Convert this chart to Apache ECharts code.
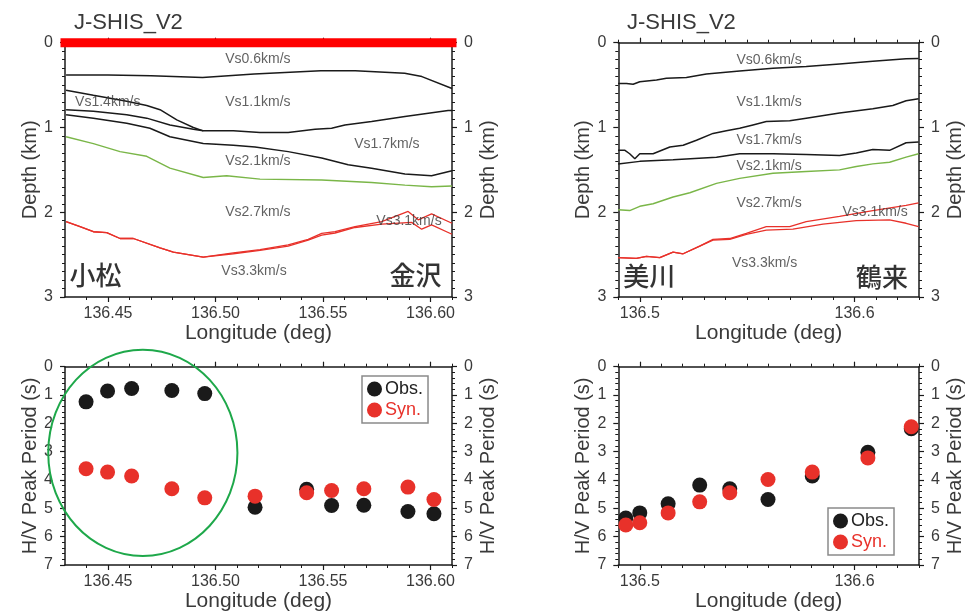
<!DOCTYPE html>
<html>
<head>
<meta charset="utf-8">
<script src="https://cdn.jsdelivr.net/npm/echarts@6/dist/echarts.min.js"></script>
<style>html,body{margin:0;padding:0;background:#fff;}#c{width:974px;height:614px;}</style>
</head>
<body>
<div id="c"></div>
<script>
// ---------- axes ----------
const leftLonRange = [136.43, 136.61];
const rightLonRange = [136.49, 136.63];
const depthRange = [0, 3];
const periodRange = [0, 7];
const leftLonTicks = [136.45, 136.50, 136.55, 136.60];
const leftLonMinor = [136.44, 136.46, 136.47, 136.48, 136.49, 136.51, 136.52, 136.53, 136.54, 136.56, 136.57, 136.58, 136.59, 136.61];
const rightLonTicks = [136.5, 136.6];
const rightLonMinor = [136.49, 136.51, 136.52, 136.53, 136.54, 136.55, 136.56, 136.57, 136.58, 136.59, 136.61, 136.62, 136.63];

// ---------- top-left: Komatsu - Kanazawa velocity structure (lon, depth km) ----------
const kkProfile = [[136.43, 0], [136.61, 0]];
const kkVs06 = [[136.4305,0.38],[136.450,0.38],[136.470,0.39],[136.494,0.41],[136.518,0.37],[136.549,0.33],[136.565,0.33],[136.588,0.36],[136.596,0.40],[136.610,0.54]];
const kkVs14Top = [[136.4305,0.56],[136.4432,0.62],[136.4587,0.69],[136.468,0.74],[136.4742,0.79],[136.482,0.91],[136.4897,1.00],[136.4943,1.04],[136.5083,1.04],[136.5207,1.06],[136.5338,1.06],[136.5463,1.02],[136.554,1.01],[136.5602,0.97],[136.5726,0.93],[136.5881,0.87],[136.6082,0.80],[136.610,0.80]];
const kkVs14Bottom = [[136.4305,0.79],[136.4432,0.81],[136.4587,0.85],[136.468,0.89],[136.4788,0.97],[136.4897,1.02],[136.4943,1.04]];
const kkVs17 = [[136.4305,0.85],[136.4432,0.89],[136.4587,0.95],[136.4695,1.01],[136.4788,1.11],[136.4943,1.19],[136.5083,1.21],[136.5184,1.23],[136.5338,1.285],[136.5494,1.36],[136.5617,1.44],[136.5726,1.48],[136.5881,1.55],[136.6005,1.57],[136.610,1.51]];
const kkVs21 = [[136.4305,1.11],[136.4432,1.19],[136.4556,1.285],[136.468,1.34],[136.4788,1.48],[136.4943,1.59],[136.5052,1.57],[136.5207,1.61],[136.5494,1.62],[136.5726,1.65],[136.5881,1.68],[136.6005,1.70],[136.610,1.69]];
const kkVs27 = [[136.4305,2.11],[136.437,2.17],[136.4432,2.23],[136.4494,2.24],[136.4556,2.31],[136.4618,2.31],[136.4742,2.42],[136.4804,2.47],[136.4943,2.53],[136.5083,2.48],[136.5207,2.44],[136.5338,2.385],[136.5431,2.32],[136.5494,2.25],[136.5556,2.23],[136.5649,2.17],[136.5773,2.11],[136.5896,1.99],[136.5943,2.09],[136.6005,2.02],[136.610,2.13]];
const kkVs31 = [[136.4305,2.11],[136.437,2.17],[136.4432,2.23],[136.4494,2.24],[136.4556,2.31],[136.4618,2.31],[136.4742,2.42],[136.4804,2.47],[136.4943,2.53],[136.5083,2.49],[136.5207,2.45],[136.5338,2.40],[136.5431,2.33],[136.5494,2.27],[136.5556,2.245],[136.5649,2.18],[136.5773,2.14],[136.5912,2.12],[136.5959,2.20],[136.6005,2.15],[136.610,2.26]];

// ---------- top-right: Mikawa - Tsurugi velocity structure ----------
const mtVs06 = [[136.4899,0.48],[136.4938,0.48],[136.4969,0.49],[136.5,0.46],[136.5078,0.44],[136.5124,0.42],[136.5217,0.41],[136.531,0.37],[136.5465,0.335],[136.562,0.30],[136.5775,0.28],[136.593,0.25],[136.6085,0.22],[136.624,0.19],[136.6298,0.185]];
const mtVs11 = [[136.4899,1.27],[136.4931,1.27],[136.4953,1.31],[136.4977,1.37],[136.5,1.31],[136.5062,1.31],[136.514,1.23],[136.5202,1.21],[136.5264,1.15],[136.5341,1.07],[136.5403,1.04],[136.5465,1.01],[136.5527,0.97],[136.5589,0.93],[136.5698,0.92],[136.5775,0.89],[136.593,0.83],[136.6085,0.78],[136.6178,0.74],[136.624,0.685],[136.6298,0.66]];
const mtVs17 = [[136.4899,1.43],[136.5,1.40],[136.5155,1.38],[136.5357,1.35],[136.5465,1.31],[136.562,1.31],[136.5775,1.32],[136.593,1.33],[136.6008,1.30],[136.6085,1.26],[136.6163,1.27],[136.624,1.18],[136.6298,1.17]];
const mtVs21 = [[136.4899,1.97],[136.4953,1.98],[136.5,1.93],[136.5062,1.90],[136.5155,1.82],[136.5233,1.77],[136.5357,1.66],[136.5465,1.60],[136.562,1.54],[136.5775,1.52],[136.593,1.50],[136.6008,1.46],[136.6085,1.43],[136.6163,1.41],[136.624,1.35],[136.6298,1.31]];
const mtVs27 = [[136.4899,2.535],[136.4984,2.545],[136.5031,2.52],[136.5093,2.535],[136.5155,2.47],[136.5202,2.49],[136.5279,2.40],[136.5341,2.32],[136.5419,2.31],[136.5496,2.25],[136.5589,2.17],[136.5698,2.17],[136.5775,2.11],[136.593,2.05],[136.6085,1.98],[136.624,1.92],[136.6298,1.89]];
const mtVs31 = [[136.4899,2.535],[136.4984,2.545],[136.5031,2.52],[136.5093,2.535],[136.5155,2.47],[136.5202,2.49],[136.5279,2.40],[136.5341,2.33],[136.5419,2.32],[136.5496,2.26],[136.5589,2.21],[136.5713,2.20],[136.5853,2.14],[136.6008,2.10],[136.6163,2.09],[136.624,2.13],[136.6298,2.17]];

// ---------- layer labels ----------
const kkLayerNames = ['Vs0.6km/s','Vs1.4km/s','Vs1.1km/s','Vs1.7km/s','Vs2.1km/s','Vs2.7km/s','Vs3.1km/s','Vs3.3km/s'];
const kkLayerLon   = [136.5197, 136.4499, 136.5197, 136.5797, 136.5197, 136.5197, 136.5900, 136.5179];
const kkLayerDepth = [0.195, 0.70, 0.70, 1.20, 1.40, 2.00, 2.10, 2.70];
const mtLayerNames = ['Vs0.6km/s','Vs1.1km/s','Vs1.7km/s','Vs2.1km/s','Vs2.7km/s','Vs3.1km/s','Vs3.3km/s'];
const mtLayerLon   = [136.5602, 136.5602, 136.5602, 136.5602, 136.5602, 136.6096, 136.5581];
const mtLayerDepth = [0.205, 0.705, 1.15, 1.453, 1.898, 2.004, 2.606];
const kkPlaces = ['小松', '金沢'];
const kkPlaceLon = [136.4442, 136.593];
const kkPlaceDepth = [2.74, 2.74];
const mtPlaces = ['美川', '鶴来'];
const mtPlaceLon = [136.5044, 136.6128];
const mtPlaceDepth = [2.75, 2.76];

// ---------- H/V peak periods ----------
const kkStationLon = [136.4398, 136.4498, 136.461, 136.4797, 136.495, 136.5184, 136.5424, 136.554, 136.569, 136.5895, 136.6016];
const kkObs = [1.24, 0.86, 0.77, 0.84, 0.95, 4.96, 4.33, 4.90, 4.89, 5.11, 5.19];
const kkSyn = [3.60, 3.72, 3.86, 4.31, 4.63, 4.57, 4.45, 4.37, 4.31, 4.25, 4.69];
const mtStationLon = [136.4935, 136.5, 136.5132, 136.5279, 136.5419, 136.5597, 136.5803, 136.6062, 136.6264];
const mtObs = [5.34, 5.16, 4.84, 4.18, 4.31, 4.69, 3.86, 3.02, 2.19];
const mtSyn = [5.59, 5.51, 5.16, 4.77, 4.45, 3.98, 3.72, 3.22, 2.12];

// highlighted group (ellipse) in lon / period units
const highlight = { lon: 136.4662, period: 3.04, halfLon: 0.0440, halfPeriod: 3.64 };

// ---------- styling ----------
const FONT = "'Liberation Sans', Arial, Helvetica, sans-serif";
const CJK = "'Noto Sans CJK JP', 'Noto Sans CJK SC', sans-serif";
const AX = '#1a1a1a';
const TXT = '#3a3a3a';
const RED = '#e8312a';
const BLACK = '#1a1a1a';
const GREEN = '#7ab648';

const grids = [
  { left: 65, top: 42.7, width: 387, height: 254.3 },
  { left: 618.3, top: 42.7, width: 300.7, height: 254.3 },
  { left: 65, top: 366.7, width: 387, height: 198.3 },
  { left: 618.3, top: 366.7, width: 300.7, height: 198.3 }
].map(g => Object.assign({ containLabel: false, outerBoundsMode: 'none' }, g));

const xAxes = [];
const yAxes = [];
function addX(gi, range, majors, minors, digits) {
  const base = { gridIndex: gi, type: 'value', min: range[0], max: range[1], splitLine: { show: false }, axisPointer: { show: false } };
  const lineStyle = { color: AX, width: 1.5 };
  xAxes.push(Object.assign({}, base, {
    position: 'bottom',
    axisLine: { show: true, onZero: false, lineStyle },
    axisTick: { show: true, customValues: majors, length: 5, lineStyle: { color: AX, width: 1.2 } },
    axisLabel: { show: true, customValues: majors, margin: 9, fontSize: 16, color: TXT, fontFamily: FONT, formatter: v => Number(v).toFixed(digits) },
    name: 'Longitude (deg)', nameLocation: 'middle', nameGap: 26,
    nameTextStyle: { fontSize: 21, color: TXT, fontFamily: FONT }
  }));
  xAxes.push(Object.assign({}, base, {
    position: 'bottom',
    axisLine: { show: false, onZero: false },
    axisTick: { show: true, customValues: minors, length: 3, lineStyle: { color: AX, width: 1 } },
    axisLabel: { show: false }
  }));
  xAxes.push(Object.assign({}, base, {
    position: 'top',
    axisLine: { show: true, onZero: false, lineStyle },
    axisTick: { show: true, customValues: majors, length: 5, lineStyle: { color: AX, width: 1.2 } },
    axisLabel: { show: false }
  }));
  xAxes.push(Object.assign({}, base, {
    position: 'top',
    axisLine: { show: false, onZero: false },
    axisTick: { show: true, customValues: minors, length: 3, lineStyle: { color: AX, width: 1 } },
    axisLabel: { show: false }
  }));
}
function addY(gi, range, name, minorSplit, gapL, gapR) {
  ['left', 'right'].forEach(pos => {
    yAxes.push({
      gridIndex: gi, type: 'value', position: pos, inverse: true,
      min: range[0], max: range[1], interval: 1,
      splitLine: { show: false },
      axisLine: { show: true, onZero: false, lineStyle: { color: AX, width: 1.5 } },
      axisTick: { show: true, length: 5, lineStyle: { color: AX, width: 1.2 } },
      minorTick: { show: true, splitNumber: minorSplit, length: 3, lineStyle: { color: AX, width: 1 } },
      axisLabel: { margin: 12, fontSize: 16, color: TXT, fontFamily: FONT },
      name: name, nameLocation: 'middle', nameRotate: 90, nameGap: pos === 'left' ? gapL : gapR,
      nameTextStyle: { fontSize: 20, color: TXT, fontFamily: FONT }
    });
  });
}
addX(0, leftLonRange, leftLonTicks, leftLonMinor, 2);
addX(1, rightLonRange, rightLonTicks, rightLonMinor, 1);
addX(2, leftLonRange, leftLonTicks, leftLonMinor, 2);
addX(3, rightLonRange, rightLonTicks, rightLonMinor, 1);
addY(0, depthRange, 'Depth (km)', 10, 22, 26);
addY(1, depthRange, 'Depth (km)', 10, 22, 26);
addY(2, periodRange, 'H/V Peak Period (s)', 5, 22, 26);
addY(3, periodRange, 'H/V Peak Period (s)', 5, 22, 26);

const series = [];
function lineS(gi, data, color, width, extra) {
  series.push(Object.assign({
    type: 'line', xAxisIndex: gi * 4, yAxisIndex: gi * 2, data: data,
    symbol: 'none', silent: true, animation: false,
    lineStyle: { color: color, width: width }
  }, extra || {}));
}
function labelS(gi, names, lons, depths, size, family, color, weight) {
  series.push({
    type: 'scatter', xAxisIndex: gi * 4, yAxisIndex: gi * 2, silent: true, animation: false,
    symbolSize: 1, itemStyle: { color: 'rgba(0,0,0,0)' }, z: 5,
    data: names.map((n, i) => ({ name: n, value: [lons[i], depths[i]] })),
    label: { show: true, position: 'inside', formatter: '{b}', fontSize: size, fontFamily: family, color: color, fontWeight: weight || 'normal' }
  });
}
// top-left
lineS(0, kkVs06, BLACK, 1.5);
lineS(0, kkVs14Top, BLACK, 1.5);
lineS(0, kkVs14Bottom, BLACK, 1.5);
lineS(0, kkVs17, BLACK, 1.5);
lineS(0, kkVs21, GREEN, 1.4);
lineS(0, kkVs27, RED, 1.3);
lineS(0, kkVs31, RED, 1.3);
labelS(0, kkLayerNames, kkLayerLon, kkLayerDepth, 14, FONT, TXT);
labelS(0, kkPlaces, kkPlaceLon, kkPlaceDepth, 26, CJK, '#000', 500);
lineS(0, kkProfile, '#ff0000', 8, { clip: false, z: 10, lineStyle: { color: '#ff0000', width: 9, cap: 'square' } });
// top-right
lineS(1, mtVs06, BLACK, 1.5);
lineS(1, mtVs11, BLACK, 1.5);
lineS(1, mtVs17, BLACK, 1.5);
lineS(1, mtVs21, GREEN, 1.4);
lineS(1, mtVs27, RED, 1.3);
lineS(1, mtVs31, RED, 1.3);
labelS(1, mtLayerNames, mtLayerLon, mtLayerDepth, 14, FONT, TXT);
labelS(1, mtPlaces, mtPlaceLon, mtPlaceDepth, 26, CJK, '#000', 500);
// scatter panels
function dots(gi, name, lons, vals, color) {
  series.push({
    type: 'scatter', name: name, xAxisIndex: gi * 4, yAxisIndex: gi * 2,
    data: lons.map((x, i) => [x, vals[i]]), symbol: 'circle', symbolSize: 15,
    itemStyle: { color: color, opacity: 1 }, animation: false, silent: true
  });
}
dots(2, 'Obs.', kkStationLon, kkObs, BLACK);
dots(2, 'Syn.', kkStationLon, kkSyn, RED);
dots(3, 'Obs.', mtStationLon, mtObs, BLACK);
dots(3, 'Syn.', mtStationLon, mtSyn, RED);

function legendAt(left, top) {
  return {
    orient: 'vertical', left: left, top: top, padding: [4, 5, 4, 5], itemGap: 3,
    itemWidth: 15, itemHeight: 15, icon: 'circle', selectedMode: false,
    borderColor: '#8a8a8a', borderWidth: 1.5, backgroundColor: '#fff',
    textStyle: { fontSize: 18, fontFamily: FONT, padding: [0, 0, 0, -2] },
    data: [
      { name: 'Obs.', textStyle: { color: '#222' } },
      { name: 'Syn.', textStyle: { color: RED } }
    ]
  };
}

const chart = echarts.init(document.getElementById('c'), null, { renderer: 'canvas' });
chart.setOption({
  animation: false,
  backgroundColor: '#ffffff',
  title: [
    { text: 'J-SHIS_V2', left: 74, top: 12, padding: 0, textStyle: { fontSize: 22, fontWeight: 'normal', color: TXT, fontFamily: FONT } },
    { text: 'J-SHIS_V2', left: 627, top: 12, padding: 0, textStyle: { fontSize: 22, fontWeight: 'normal', color: TXT, fontFamily: FONT } }
  ],
  legend: [legendAt(362, 376), legendAt(828, 508)],
  grid: grids,
  xAxis: xAxes,
  yAxis: yAxes,
  series: series
});

// highlight ellipse through the axis scales of the bottom-left panel
const cx = chart.convertToPixel({ xAxisIndex: 8 }, highlight.lon);
const cy = chart.convertToPixel({ yAxisIndex: 4 }, highlight.period);
const rx = chart.convertToPixel({ xAxisIndex: 8 }, highlight.lon + highlight.halfLon) - cx;
const ry = chart.convertToPixel({ yAxisIndex: 4 }, highlight.period + highlight.halfPeriod) - cy;
chart.setOption({
  graphic: [{
    type: 'ellipse', shape: { cx: cx, cy: cy, rx: Math.abs(rx), ry: Math.abs(ry) },
    style: { fill: 'none', stroke: '#1ea84a', lineWidth: 2 }, z: 100, silent: true
  }]
});
</script>
</body>
</html>
